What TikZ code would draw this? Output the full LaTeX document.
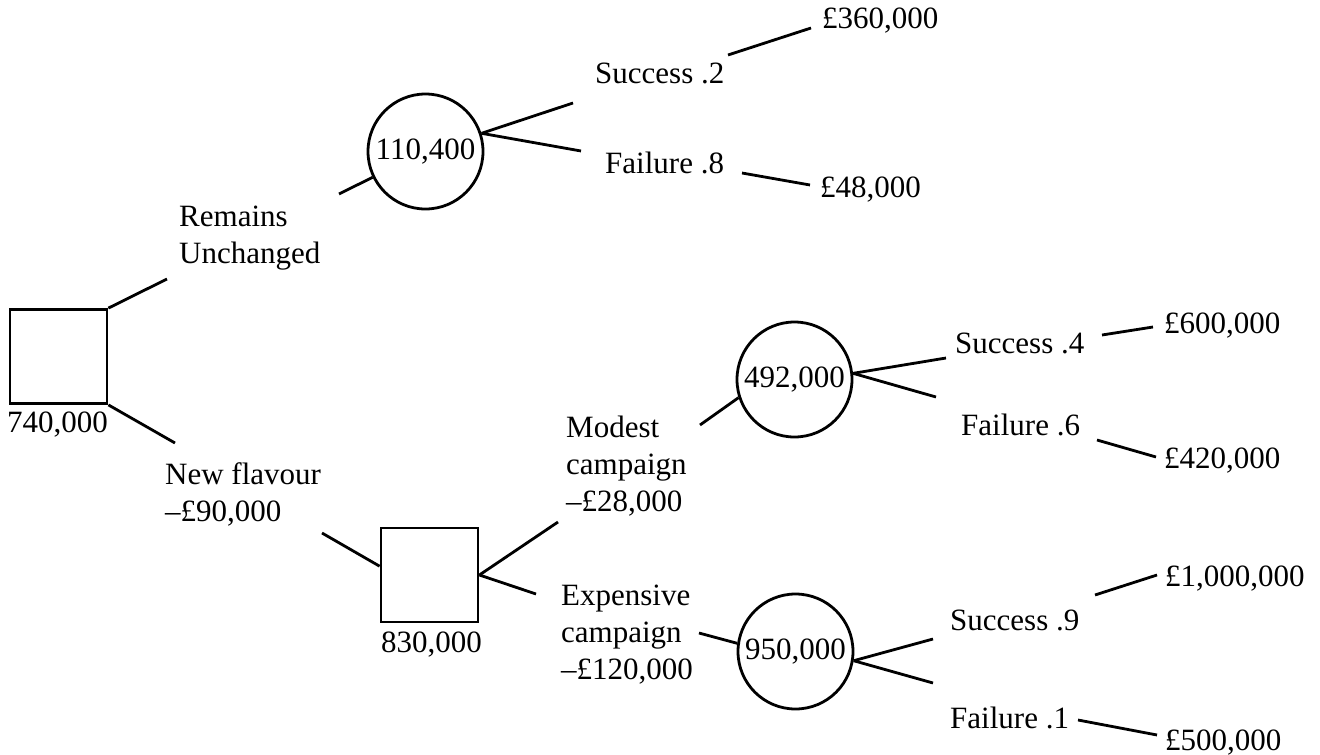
\documentclass[tikz,border=0pt]{standalone}
\usepackage{fontspec}
\setmainfont{Liberation Serif}
\begin{document}
\begin{tikzpicture}[x=1pt,y=-1pt,
  every node/.style={font=\fontsize{31}{37}\selectfont},
  lbl/.style={inner sep=0pt,anchor=base west,align=left},
  decbox/.style={draw,line width=2.8pt,minimum width=97pt,minimum height=94pt,inner sep=0pt},
  chance/.style={draw,circle,line width=2.8pt,minimum size=115pt,inner sep=0pt},
  edge/.style={line width=2.8pt}]
\useasboundingbox (0,0) rectangle (1320,755);
% decision and chance nodes
\node[decbox] (sq1) at (58.5,356.5) {};
\node[decbox] (sq2) at (429.5,575) {};
\node[chance] (ch1) at (425.5,151.5) {110,400};
\node[chance] (ch2) at (794.5,379.5) {492,000};
\node[chance] (ch3) at (795.5,651.5) {950,000};
% values under boxes
\node[lbl] (v1) at (7,432) {740,000};
\node[lbl] (v2) at (381,652) {830,000};
% branch labels (base = baseline of last line)
\node[lbl] (rem) at (179,263) {Remains\\Unchanged};
\node[lbl] (newf) at (165,521) {New flavour\\–£90,000};
\node[lbl] (mod) at (566,511) {Modest\\campaign\\–£28,000};
\node[lbl] (exp) at (561,679) {Expensive\\campaign\\–£120,000};
\node[lbl] (s2) at (595,83) {Success .2};
\node[lbl] (f8) at (605,173) {Failure .8};
\node[lbl] (s4) at (955,353) {Success .4};
\node[lbl] (f6) at (961,435) {Failure .6};
\node[lbl] (s9) at (950,630) {Success .9};
\node[lbl] (f1) at (950,728) {Failure .1};
% payoffs
\node[lbl] (p1) at (822,28) {£360,000};
\node[lbl] (p2) at (820,197) {£48,000};
\node[lbl] (p3) at (1164,333) {£600,000};
\node[lbl] (p4) at (1164,468) {£420,000};
\node[lbl] (p5) at (1165,586) {£1,000,000};
\node[lbl] (p6) at (1165,750) {£500,000};
% free ends
\coordinate (a1) at (167,279);
\coordinate (a2) at (339,194);
\coordinate (a3) at (573,103);
\coordinate (a4) at (581,151);
\coordinate (a5) at (728,55);
\coordinate (a6) at (811,28);
\coordinate (a7) at (742,173);
\coordinate (a8) at (810,185);
\coordinate (b1) at (175,443);
\coordinate (b2) at (322,533);
\coordinate (b3) at (558,522);
\coordinate (b4) at (536,594);
\coordinate (b5) at (700,425);
\coordinate (b6) at (946,358);
\coordinate (b7) at (936,397);
\coordinate (b8) at (1102,335);
\coordinate (b9) at (1153,327);
\coordinate (c1) at (1097,440);
\coordinate (c2) at (1156,457);
\coordinate (c3) at (699,633);
\coordinate (c4) at (933,639);
\coordinate (c5) at (933,683);
\coordinate (c6) at (1095,595);
\coordinate (c7) at (1157,575);
\coordinate (c8) at (1078,720);
\coordinate (c9) at (1157,735);
% connectors
\draw[edge] (sq1.north east) -- (a1);
\draw[edge] (a2) -- (ch1.206);
\draw[edge] (ch1.18) -- (a3);
\draw[edge] (ch1.18) -- (a4);
\draw[edge] (a5) -- (a6);
\draw[edge] (a7) -- (a8);
\draw[edge] (sq1.south east) -- (b1);
\draw[edge] (b2) -- (sq2.170);
\draw[edge] (sq2.east) -- (b3);
\draw[edge] (sq2.east) -- (b4);
\draw[edge] (b5) -- (ch2.198);
\draw[edge] (ch2.6) -- (b6);
\draw[edge] (ch2.6) -- (b7);
\draw[edge] (b8) -- (b9);
\draw[edge] (c1) -- (c2);
\draw[edge] (c3) -- (ch3.172);
\draw[edge] (ch3.351) -- (c4);
\draw[edge] (ch3.351) -- (c5);
\draw[edge] (c6) -- (c7);
\draw[edge] (c8) -- (c9);
\end{tikzpicture}
\end{document}
